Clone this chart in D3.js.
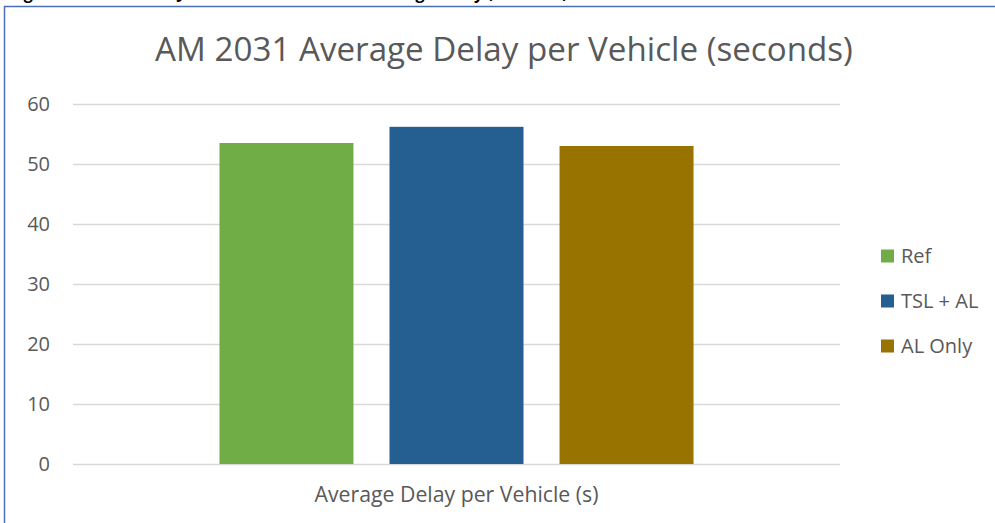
<!DOCTYPE html>
<html>
<head>
<meta charset="utf-8">
<script src="https://cdn.jsdelivr.net/npm/d3@7"></script>
<style>
  html, body { margin: 0; padding: 0; background: #fff; }
  svg { display: block; font-family: "Open Sans", "Noto Sans", sans-serif; }
</style>
</head>
<body>
<svg id="chart" width="995" height="523"></svg>
<script>
const chartTitle = "AM 2031 Average Delay per Vehicle (seconds)";
const caption = "Figure 3: Arrow Lane Junction Performance – Average Delay (AM Peak)";
const categories = ["Average Delay per Vehicle (s)"];
const seriesNames = ["Ref", "TSL + AL", "AL Only"];
const seriesValues = [53.5, 56.2, 53.0];
const seriesColors = ["#70AD47", "#255E91", "#997300"];
const yTicks = [0, 10, 20, 30, 40, 50, 60];

const svg = d3.select("#chart");
const plot = { left: 73, right: 840, top: 104, bottom: 464 };
const textColor = "#595959";

function fitWidth(sel, target) {
  const w = sel.node().getComputedTextLength();
  const fs = +sel.attr("font-size");
  sel.attr("font-size", fs * target / w);
}

// frame border (left + top)
svg.append("path")
  .attr("d", "M4.5,523 L4.5,6.5 L995,6.5")
  .attr("fill", "none").attr("stroke", "#4A6FB5").attr("stroke-width", 1.5);

// cut-off caption above frame
svg.append("text")
  .attr("x", 10).attr("y", -1)
  .attr("font-size", 16).attr("font-weight", "bold").attr("fill", "#000")
  .text(caption);

const y = d3.scaleLinear().domain([0, 60]).range([plot.bottom, plot.top]);
const x0 = d3.scaleBand().domain(categories).range([plot.left, plot.right]).paddingInner(0).paddingOuter(0.309);
const x1 = d3.scaleBand().domain(seriesNames).range([0, x0.bandwidth()]).paddingInner(0.212).paddingOuter(0);

// gridlines via axis
const yAxis = d3.axisLeft(y).tickValues(yTicks).tickSize(-(plot.right - plot.left)).tickPadding(23);
const gy = svg.append("g").attr("transform", `translate(${plot.left},0)`).call(yAxis);
gy.select(".domain").remove();
gy.selectAll(".tick line").attr("stroke", "#D9D9D9").attr("stroke-width", 1.5);
gy.selectAll(".tick text").attr("fill", textColor).attr("font-size", 20)
  .attr("font-family", "'Open Sans', sans-serif");

// bars
const data = seriesNames.map((s, i) => ({ name: s, value: seriesValues[i], color: seriesColors[i] }));
const group = svg.append("g").attr("transform", `translate(${x0(categories[0])},0)`);
group.selectAll("rect").data(data).join("rect")
  .attr("x", d => x1(d.name))
  .attr("width", x1.bandwidth())
  .attr("y", d => y(d.value))
  .attr("height", d => y(0) - y(d.value))
  .attr("fill", d => d.color);

// x axis category label
const xl = svg.append("text")
  .attr("x", x0(categories[0]) + x0.bandwidth() / 2).attr("y", 502)
  .attr("text-anchor", "middle").attr("fill", textColor).attr("font-size", 20)
  .text(categories[0]);
fitWidth(xl, 284);

// title
const t = svg.append("text")
  .attr("x", 504).attr("y", 61)
  .attr("text-anchor", "middle").attr("fill", textColor).attr("font-size", 32)
  .text(chartTitle);
fitWidth(t, 698);

// legend
const legend = svg.append("g");
const ly = d3.scalePoint().domain(seriesNames).range([256, 346]);
const li = legend.selectAll("g").data(data).join("g")
  .attr("transform", d => `translate(881,${ly(d.name)})`);
li.append("rect").attr("x", 0).attr("y", -6.5).attr("width", 13).attr("height", 13)
  .attr("fill", d => d.color);
li.append("text").attr("x", 20).attr("y", 0).attr("dy", "0.35em")
  .attr("fill", textColor).attr("font-size", 20).text(d => d.name);
</script>
</body>
</html>
